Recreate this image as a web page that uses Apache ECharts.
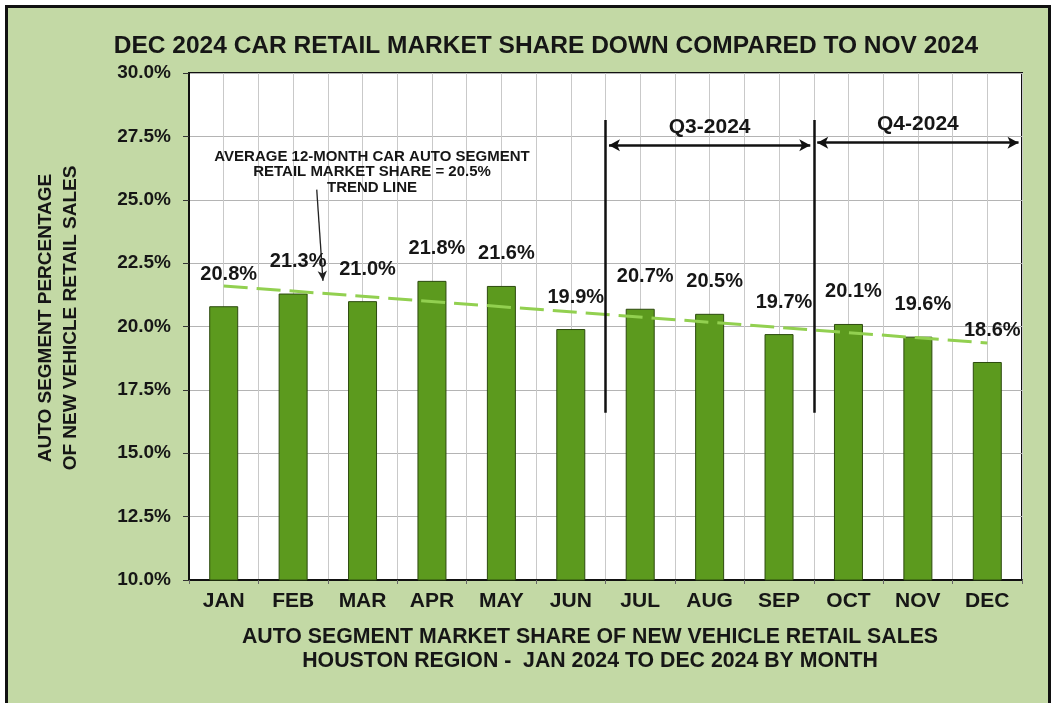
<!DOCTYPE html>
<html><head><meta charset="utf-8">
<script src="https://cdn.jsdelivr.net/npm/echarts@6/dist/echarts.min.js"></script>
<style>
html,body{margin:0;padding:0;background:#fff;overflow:hidden;}
#frame{position:absolute;left:5px;top:5px;width:1040px;height:720px;background:#c3d9a5;border:3px solid #111;}
#chart{position:absolute;left:0;top:0;width:1052px;height:703px;}
</style></head><body>
<div id="frame"></div><div id="chart"></div>
<script>
// ---- data ----
const months = ['JAN','FEB','MAR','APR','MAY','JUN','JUL','AUG','SEP','OCT','NOV','DEC'];
const shareValues = [20.8, 21.3, 21.0, 21.8, 21.6, 19.9, 20.7, 20.5, 19.7, 20.1, 19.6, 18.6];
const yAxisMin = 10.0;
const yAxisMax = 30.0;
const yAxisStep = 2.5;
const trendEnds = [21.6, 19.35];            // trend line value at JAN and at DEC
const quarterBounds = [6, 9, 12];           // month-boundary index: end of JUN, end of SEP, end of DEC
const quarterLabels = ['Q3-2024', 'Q4-2024'];
const dividerSpan = [28.15, 16.6];          // vertical divider line top / bottom values (%)
const quarterArrowLevel = [27.15, 27.25];   // value (%) of the Q3 / Q4 arrows
const noteArrow = [[1.84, 25.4], [1.93, 21.8]]; // annotation arrow start/end

const titleText = 'DEC 2024 CAR RETAIL MARKET SHARE DOWN COMPARED TO NOV 2024';
const yNameText = 'AUTO SEGMENT PERCENTAGE\nOF NEW VEHICLE RETAIL SALES';
const xNameText = 'AUTO SEGMENT MARKET SHARE OF NEW VEHICLE RETAIL SALES\nHOUSTON REGION -  JAN 2024 TO DEC 2024 BY MONTH';
const noteText = 'AVERAGE 12-MONTH CAR AUTO SEGMENT\nRETAIL MARKET SHARE = 20.5%\nTREND LINE';

const FONT = '"Liberation Sans", Arial, sans-serif';
const INK = '#161616';

const chart = echarts.init(document.getElementById('chart'), null, {renderer: 'canvas'});

const dividerLines = quarterBounds.slice(0, 2).map(b => [
  {coord: [b, dividerSpan[0]]}, {coord: [b, dividerSpan[1]]}
]);
const quarterArrows = quarterLabels.map((q, i) => [
  {coord: [quarterBounds[i] + 0.05, quarterArrowLevel[i]], name: q},
  {coord: [quarterBounds[i + 1] - 0.05, quarterArrowLevel[i]]}
]);

const option = {
  animation: false,
  backgroundColor: 'transparent',
  grid: {left: 189, right: 30, top: 73, bottom: 123, show: true,
         backgroundColor: '#ffffff', borderColor: '#111', borderWidth: 2},
  xAxis: [{
    type: 'category', data: months, position: 'bottom',
    axisLine: {lineStyle: {color: '#111', width: 2}},
    axisTick: {show: true, length: 4, lineStyle: {color: '#666'}},
    axisLabel: {color: INK, fontFamily: FONT, fontWeight: 'bold', fontSize: 21, margin: 11},
    splitLine: {show: false}
  }, {
    type: 'value', min: 0, max: 12, interval: 0.5, position: 'bottom',
    axisLine: {show: false}, axisTick: {show: false}, axisLabel: {show: false},
    splitLine: {show: true, lineStyle: {color: '#c9c9c9', width: 1}}
  }],
  yAxis: [{
    type: 'value', min: yAxisMin, max: yAxisMax, interval: yAxisStep,
    axisLine: {show: true, lineStyle: {color: '#111', width: 2}},
    axisTick: {show: true, inside: false, length: 6, lineStyle: {color: '#333', width: 1}},
    axisLabel: {color: INK, fontFamily: FONT, fontWeight: 'bold', fontSize: 19, margin: 18,
                formatter: v => v.toFixed(1) + '%'},
    splitLine: {show: true, lineStyle: {color: '#b4b4b4', width: 1}}
  }],
  series: [{
    type: 'bar', name: 'share', data: shareValues, xAxisIndex: 0, yAxisIndex: 0,
    barWidth: 29,
    itemStyle: {color: '#5c9a1e', borderColor: '#2c4a0e', borderWidth: 1},
    label: {show: true, position: 'top', distance: 22, offset: [5, 0],
            color: INK, fontFamily: FONT, fontWeight: 'bold', fontSize: 20,
            formatter: p => p.value.toFixed(1) + '%'},
    markLine: {
      silent: true, symbol: 'none', label: {show: false}, animation: false,
      lineStyle: {color: '#92d050', width: 3, type: [24, 9]},
      data: [[{coord: [months[0], trendEnds[0]]}, {coord: [months[months.length - 1], trendEnds[1]]}]]
    },
    z: 3
  }, {
    type: 'line', name: 'annotations', data: [], xAxisIndex: 1, yAxisIndex: 0,
    symbol: 'none', silent: true,
    markLine: {
      silent: true, animation: false, symbol: 'none',
      label: {show: false},
      lineStyle: {color: '#111', width: 2.5, type: 'solid'},
      data: [
        ...dividerLines,
        ...quarterArrows.map(a => [
          Object.assign({}, a[0], {
            symbol: 'arrow', symbolSize: [9, 11],
            lineStyle: {color: '#111', width: 2.5, type: 'solid'},
            label: {show: true, position: 'insideMiddleTop', distance: 8, formatter: a[0].name,
                    color: INK, fontFamily: FONT, fontWeight: 'bold', fontSize: 21}
          }),
          Object.assign({}, a[1], {symbol: 'arrow', symbolSize: [9, 11]})
        ]),
        [
          {coord: noteArrow[0], symbol: 'none', lineStyle: {color: '#222', width: 1.3, type: 'solid'}},
          {coord: noteArrow[1], symbol: 'arrow', symbolSize: [7, 10]}
        ]
      ]
    },
    z: 4
  }],
  graphic: [
    {type: 'text', x: 546, y: 46, z: 10,
     style: {text: titleText, fill: INK, font: 'bold 24.5px ' + FONT, align: 'center', verticalAlign: 'middle'}},
    {type: 'text', x: 58, y: 318, rotation: Math.PI / 2, z: 10,
     style: {text: yNameText, fill: INK, font: 'bold 19px ' + FONT, lineHeight: 25,
             align: 'center', verticalAlign: 'middle'}},
    {type: 'text', x: 590, y: 649, z: 10,
     style: {text: xNameText, fill: INK, font: 'bold 21.3px ' + FONT, lineHeight: 24,
             align: 'center', verticalAlign: 'middle'}},
    {type: 'text', x: 372, y: 172, z: 10,
     style: {text: noteText, fill: INK, font: 'bold 15px ' + FONT, lineHeight: 15.5,
             align: 'center', verticalAlign: 'middle'}}
  ]
};
chart.setOption(option);
</script>
</body></html>
